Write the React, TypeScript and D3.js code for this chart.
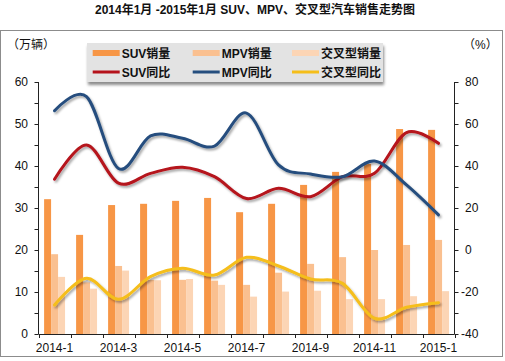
import React from "react";
import * as d3 from "d3";

const months = ["2014-1","2014-2","2014-3","2014-4","2014-5","2014-6","2014-7","2014-8","2014-9","2014-10","2014-11","2014-12","2015-1"];
const tickLabels = ["2014-1","2014-3","2014-5","2014-7","2014-9","2014-11","2015-1"];
const suvSales = [32.1, 23.6, 30.7, 31.0, 31.7, 32.4, 29.0, 31.0, 35.5, 38.6, 40.5, 48.8, 48.6];
const mpvSales = [19.0, 12.3, 16.2, 12.9, 12.9, 12.7, 11.7, 14.6, 16.7, 18.3, 20.0, 21.2, 22.4];
const crossSales = [13.6, 10.8, 15.1, 12.8, 13.1, 11.7, 8.9, 10.1, 10.3, 8.3, 8.3, 9.0, 10.2];
const suvYoY = [33.7, 50.0, 31.8, 36.5, 39.4, 34.9, 24.5, 29.4, 25.4, 34.9, 36.5, 55.9, 50.8];
const mpvYoY = [66.3, 73.0, 38.8, 54.3, 53.2, 49.5, 65.2, 40.5, 36.2, 34.9, 42.4, 31.0, 16.7];
const crossYoY = [-26.2, -13.5, -23.5, -12.7, -8.7, -11.9, -3.5, -7.6, -13.8, -15.9, -32.5, -27.3, -25.1];
const leftTicks = [0, 10, 20, 30, 40, 50, 60];
const rightTicks = [-40, -20, 0, 20, 40, 60, 80];

const title = "2014年1月 -2015年1月 SUV、MPV、交叉型汽车销售走势图";
const barSeries = [
  { name: "SUV销量", values: suvSales, color: "#F79646" },
  { name: "MPV销量", values: mpvSales, color: "#FAC090" },
  { name: "交叉型销量", values: crossSales, color: "#FCD5B5" },
];
const lineSeries = [
  { name: "SUV同比", values: suvYoY, color: "#B5121B" },
  { name: "MPV同比", values: mpvYoY, color: "#254E7E" },
  { name: "交叉型同比", values: crossYoY, color: "#F5BE1A" },
];

const FONT = "'Liberation Sans', Arial, 'Noto Sans CJK SC', sans-serif";

export default function App() {
  const W = 505, H = 361;
  const x0 = 38.5, x1 = 454.5, yTop = 82, yBot = 334;
  const x = d3.scaleBand<string>().domain(months).range([x0, x1]).paddingInner(0).paddingOuter(0);
  const bw = x.bandwidth();
  const inner = d3.scaleBand<string>().domain(barSeries.map(s => s.name)).range([bw * 0.175, bw * 0.83]);
  const yL = d3.scaleLinear().domain([0, 60]).range([yBot, yTop]);
  const yR = d3.scaleLinear().domain([-40, 80]).range([yBot, yTop]);
  const line = d3.line<number>()
    .x((_, i) => (x(months[i]) as number) + bw / 2)
    .y(v => yR(v))
    .curve(d3.curveCardinal.tension(0));

  const leftMinor = d3.range(0, 61, 5);
  const rightMinor = d3.range(-40, 81, 10);

  const legendCols = [92.7, 192.7, 292];
  return (
    <svg width={W} height={H} style={{ position: "fixed", left: 0, top: 0, display: "block", background: "#fff" }} fontFamily={FONT}>
      <defs>
        <filter id="lshadow" x="-10%" y="-20%" width="120%" height="150%">
          <feDropShadow dx="1.5" dy="2" stdDeviation="1.2" floodColor="#000" floodOpacity="0.35" />
        </filter>
        <filter id="legshadow" x="-10%" y="-20%" width="120%" height="160%">
          <feDropShadow dx="1" dy="3" stdDeviation="1.5" floodColor="#000" floodOpacity="0.45" />
        </filter>
      </defs>
      <rect x={0} y={0} width={W} height={H} fill="#fff" />
      <text x={255} y={14} textAnchor="middle" fontSize={12} fontWeight="bold" fill="#111">{title}</text>
      <rect x={0.5} y={30.5} width={502} height={326} fill="#fff" stroke="#8c8c8c" strokeWidth={1} />

      <text x={7} y={49} fontSize={12} fill="#111">（万辆）</text>
      <text x={463} y={49} fontSize={12} fill="#111">（%）</text>

      {/* legend */}
      <rect x={87} y={43} width={296} height={39} fill="#e3e3e3" filter="url(#legshadow)" />
      {barSeries.map((s, i) => (
        <g key={s.name}>
          <rect x={legendCols[i]} y={50} width={27} height={6} fill={s.color} />
          <text x={legendCols[i] + 29} y={57.5} fontSize={12} fontWeight="bold" fill="#111">{s.name}</text>
        </g>
      ))}
      {lineSeries.map((s, i) => (
        <g key={s.name}>
          <line x1={legendCols[i]} x2={legendCols[i] + 27} y1={72} y2={72} stroke={s.color} strokeWidth={3} />
          <text x={legendCols[i] + 29} y={76.5} fontSize={12} fontWeight="bold" fill="#111">{s.name}</text>
        </g>
      ))}

      {/* bars */}
      {barSeries.map(s => (
        <g key={s.name}>
          {s.values.map((v, i) => (
            <rect key={i} x={(x(months[i]) as number) + (inner(s.name) as number)} y={yL(v)} width={inner.bandwidth()} height={yBot - yL(v)} fill={s.color} />
          ))}
        </g>
      ))}

      {/* lines */}
      {lineSeries.map(s => (
        <path key={s.name} d={line(s.values) || ""} fill="none" stroke={s.color} strokeWidth={3} strokeLinecap="round" filter="url(#lshadow)" />
      ))}

      {/* left axis */}
      <line x1={x0} x2={x0} y1={yTop} y2={yBot} stroke="#222" />
      {leftMinor.map(v => (
        <line key={v} x1={x0 - 4} x2={x0} y1={Math.round(yL(v)) + 0.5} y2={Math.round(yL(v)) + 0.5} stroke="#222" />
      ))}
      {leftTicks.map(v => (
        <text key={v} x={28} y={yL(v) + 4} textAnchor="end" fontSize={12} fill="#111">{v}</text>
      ))}

      {/* right axis */}
      <line x1={x1} x2={x1} y1={yTop} y2={yBot} stroke="#222" />
      {rightMinor.map(v => (
        <line key={v} x1={x1} x2={x1 + 4} y1={Math.round(yR(v)) + 0.5} y2={Math.round(yR(v)) + 0.5} stroke="#222" />
      ))}
      {rightTicks.map(v => (
        <text key={v} x={v < 0 ? 461 : 465} y={yR(v) + 4} textAnchor="start" fontSize={12} fill="#111">{v}</text>
      ))}

      {/* x axis */}
      <line x1={x0} x2={x1} y1={yBot + 0.5} y2={yBot + 0.5} stroke="#222" />
      {months.concat(["end"]).map((m, i) => {
        const xx = Math.round(i < months.length ? (x(m) as number) : x1) + 0.5;
        return <line key={m} x1={xx} x2={xx} y1={yBot} y2={yBot + 4} stroke="#222" />;
      })}
      {tickLabels.map(m => (
        <text key={m} x={(x(m) as number) + bw / 2} y={352} textAnchor="middle" fontSize={12} fill="#111">{m}</text>
      ))}
    </svg>
  );
}
